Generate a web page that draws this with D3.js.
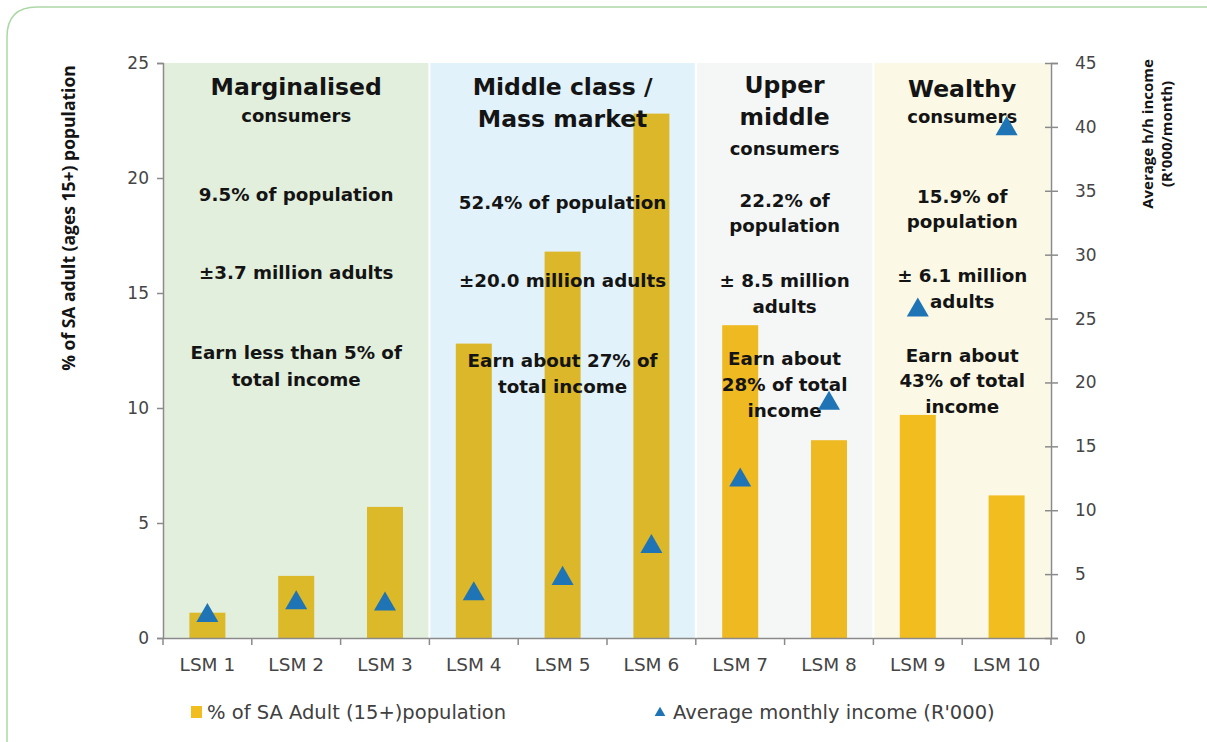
<!DOCTYPE html>
<html><head><meta charset="utf-8">
<script src="https://cdn.jsdelivr.net/npm/d3@7"></script>
<style>html,body{margin:0;padding:0;background:#fff;}svg{display:block;font-family:"DejaVu Sans",sans-serif;}</style>
</head><body>
<svg id="c" width="1207" height="742"></svg>
<script>
const categories = ["LSM 1","LSM 2","LSM 3","LSM 4","LSM 5","LSM 6","LSM 7","LSM 8","LSM 9","LSM 10"];
const populationPct = [1.1, 2.7, 5.7, 12.8, 16.8, 22.8, 13.6, 8.6, 9.7, 6.2];
const monthlyIncome = [2.0, 3.0, 2.9, 3.7, 4.9, 7.4, 12.6, 18.6, 25.9, 40.1];
const leftTicks = [0, 5, 10, 15, 20, 25];
const rightTicks = [0, 5, 10, 15, 20, 25, 30, 35, 40, 45];
const segments = [
  {from: "LSM 1", to: "LSM 3", fill: "#e3efdd", bar: "#dbb929",
   lines: [{t:"Marginalised", y:95, big:true}, {t:"consumers", y:122, sub:true},
           {t:"9.5% of population", y:201}, {t:"±3.7 million adults", y:279},
           {t:"Earn less than 5% of", y:359}, {t:"total income", y:386}]},
  {from: "LSM 4", to: "LSM 6", fill: "#e2f2fa", bar: "#dbb729",
   lines: [{t:"Middle class /", y:95, big:true}, {t:"Mass market", y:127, big:true},
           {t:"52.4% of population", y:209}, {t:"±20.0 million adults", y:287},
           {t:"Earn about 27% of", y:367}, {t:"total income", y:393}]},
  {from: "LSM 7", to: "LSM 8", fill: "#f5f7f7", bar: "#efb922",
   lines: [{t:"Upper", y:93, big:true}, {t:"middle", y:125, big:true}, {t:"consumers", y:155, sub:true},
           {t:"22.2% of", y:207}, {t:"population", y:232}, {t:"± 8.5 million", y:287}, {t:"adults", y:313},
           {t:"Earn about", y:365}, {t:"28% of total", y:391}, {t:"income", y:417}]},
  {from: "LSM 9", to: "LSM 10", fill: "#fbf9e6", bar: "#f2bd1f",
   lines: [{t:"Wealthy", y:97, big:true}, {t:"consumers", y:123, sub:true},
           {t:"15.9% of", y:203}, {t:"population", y:228}, {t:"± 6.1 million", y:282}, {t:"adults", y:308},
           {t:"Earn about", y:362}, {t:"43% of total", y:387}, {t:"income", y:413}]}
];

const svg = d3.select("#c");
const M = {l:163, r:1051, t:63, b:638};

// frame
svg.append("path")
  .attr("d", `M7,760 L7,37 Q7,7 37,7 L1230,7`)
  .attr("fill","none").attr("stroke","#acd8a6").attr("stroke-width",1.5);

const xb = d3.scaleBand().domain(categories).range([M.l, M.r]);
const yL = d3.scaleLinear().domain([0,25]).range([M.b, M.t]);
const yR = d3.scaleLinear().domain([0,45]).range([M.b, M.t]);

// backgrounds
segments.forEach(s => {
  const x0 = xb(s.from), x1 = xb(s.to) + xb.bandwidth();
  svg.append("rect").attr("x", x0+1).attr("y", M.t).attr("width", x1-x0-2).attr("height", M.b-M.t).attr("fill", s.fill);
});

// bars
const segOf = c => segments.find(s => categories.indexOf(c) >= categories.indexOf(s.from) && categories.indexOf(c) <= categories.indexOf(s.to));
svg.append("g").selectAll("rect").data(categories).join("rect")
  .attr("x", d => xb(d) + xb.bandwidth()/2 - 18)
  .attr("width", 36)
  .attr("y", (d,i) => yL(populationPct[i]))
  .attr("height", (d,i) => yL(0) - yL(populationPct[i]))
  .attr("fill", d => segOf(d).bar);

// segment texts
segments.forEach(s => {
  const cx = (xb(s.from) + xb(s.to) + xb.bandwidth())/2;
  const g = svg.append("g").attr("text-anchor","middle").attr("font-weight","bold").attr("fill","#141414");
  s.lines.forEach(l => {
    g.append("text").attr("x", cx).attr("y", l.y)
      .attr("font-size", l.big ? 23.5 : (l.sub ? 18 : 18.3))
      .text(l.t);
  });
});

// triangles
const triSize = 210;
const triShift = Math.sqrt(triSize/(3*Math.sqrt(3)))/2;
const tri = d3.symbol().type(d3.symbolTriangle).size(triSize);
svg.append("g").selectAll("path").data(categories).join("path")
  .attr("d", tri)
  .attr("transform", (d,i) => `translate(${xb(d)+xb.bandwidth()/2},${yR(monthlyIncome[i])+triShift})`)
  .attr("fill", "#1f74b6");

// axes
const axisColor = "#8a8a8a";
const gl = svg.append("g").attr("transform", `translate(${M.l},0)`)
  .call(d3.axisLeft(yL).tickValues(leftTicks).tickSize(6).tickPadding(8));
const gr = svg.append("g").attr("transform", `translate(${M.r},0)`)
  .call(d3.axisRight(yR).tickValues(rightTicks).tickSize(7).tickPadding(17));
gr.selectAll(".tick line").attr("x1", -6);
const gb = svg.append("g").attr("transform", `translate(0,${M.b})`)
  .call(d3.axisBottom(xb).tickSize(0).tickPadding(20));
// boundary ticks on bottom axis
svg.append("g").selectAll("line").data(d3.range(categories.length + 1)).join("line")
  .attr("x1", i => M.l + i*xb.step()).attr("x2", i => M.l + i*xb.step())
  .attr("y1", M.b).attr("y2", M.b+7).attr("stroke", axisColor).attr("stroke-width",1.5);
[gl, gr, gb].forEach(g => {
  g.selectAll("path.domain").attr("stroke", axisColor).attr("stroke-width",1.5);
  g.selectAll(".tick line").attr("stroke", axisColor).attr("stroke-width",1.5);
  g.selectAll("text").attr("font-size",17).attr("fill","#454545").attr("font-family","DejaVu Sans, sans-serif");
});
gb.selectAll("text").attr("font-size",18.5);
gr.selectAll("text").attr("text-anchor","start");
gb.selectAll("text").attr("dy","0.71em");

// axis titles
svg.append("text").attr("transform","translate(75,218) rotate(-90)").attr("text-anchor","middle")
  .attr("font-family","'Open Sans', sans-serif")
  .attr("font-size",17.5).attr("font-weight","bold").attr("fill","#141414").text("% of SA adult (ages 15+) population");
const rt = svg.append("text").attr("transform","translate(1153,134) rotate(-90)").attr("text-anchor","middle")
  .attr("font-family","'Open Sans', sans-serif")
  .attr("font-size",15).attr("font-weight","bold").attr("fill","#141414");
rt.append("tspan").attr("x",0).attr("dy",0).text("Average h/h income");
rt.append("tspan").attr("x",0).attr("dy",19).text("(R'000/month)");

// legend
const lg = svg.append("g").attr("font-size",19.5).attr("fill","#404040");
lg.append("rect").attr("x",191).attr("y",706).attr("width",11).attr("height",12).attr("fill","#f2bd1f");
lg.append("text").attr("x",207).attr("y",719).text("% of SA Adult (15+)population");
lg.append("path").attr("d", d3.symbol().type(d3.symbolTriangle).size(50)).attr("transform","translate(660,713)").attr("fill","#1f74b6");
lg.append("text").attr("x",673).attr("y",719).text("Average monthly income (R'000)");
</script>
</body></html>
